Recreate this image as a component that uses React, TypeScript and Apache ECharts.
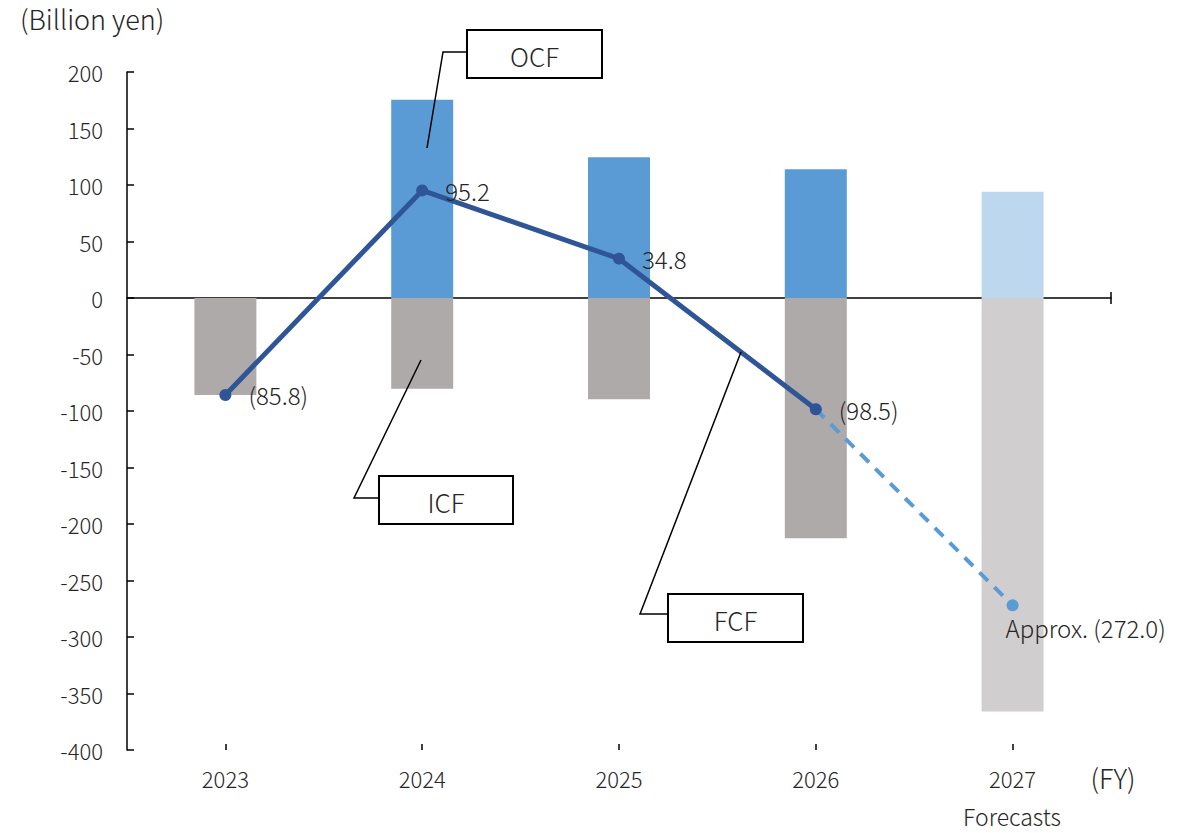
import { useEffect, useRef } from "react";
import * as echarts from "echarts";

// Fiscal years and cash-flow figures (billion yen)
const years = ["2023", "2024", "2025", "2026", "2027"];
const forecastIndex = 4;
const ocf = [0, 175.5, 124.5, 114.0, 94.0];
const icf = [-85.8, -80.3, -89.7, -212.5, -366.0];
const fcfActual: (number | null)[] = [-85.8, 95.2, 34.8, -98.5, null];
const fcfForecast: (number | null)[] = [null, null, null, -98.5, -272.0];
const yMin = -400;
const yMax = 200;
const yStep = 50;

const FONT = "'Noto Sans CJK JP', 'Noto Sans', sans-serif";
const TEXT = "#262626";
const OCF_COLOR = "#5B9BD5";
const OCF_FORECAST = "#BDD7EE";
const ICF_COLOR = "#AEAAAA";
const ICF_FORECAST = "#D0CECE";
const FCF_COLOR = "#2F5597";
const FCF_FORECAST = "#5B9BD5";

const fmt = (v: number) => (v < 0 ? `(${Math.abs(v).toFixed(1)})` : v.toFixed(1));

function callout(label: string, pts: number[][], box: { x: number; y: number; w: number; h: number }) {
  return [
    {
      type: "polyline",
      shape: { points: pts },
      style: { stroke: "#000", lineWidth: 1.5, fill: null },
      z: 10,
    },
    {
      type: "rect",
      shape: { x: box.x, y: box.y, width: box.w, height: box.h },
      style: { stroke: "#000", lineWidth: 2, fill: "#fff" },
      z: 10,
    },
    {
      type: "text",
      x: box.x + box.w / 2,
      y: box.y + box.h / 2 + 1,
      style: {
        text: label,
        font: `300 26px ${FONT}`,
        fill: TEXT,
        align: "center",
        verticalAlign: "middle",
      },
      z: 11,
    },
  ];
}

export default function App() {
  const ref = useRef<HTMLDivElement>(null);

  useEffect(() => {
    document.body.style.margin = "0";
    if (!ref.current) return;
    const chart = echarts.init(ref.current, undefined, { renderer: "svg" });

    const catAxisBase = {
      type: "category" as const,
      data: years,
      position: "bottom" as const,
      boundaryGap: true,
    };

    chart.setOption({
      animation: false,
      backgroundColor: "#fff",
      textStyle: { fontFamily: FONT, fontWeight: 300 },
      grid: { left: 127, right: 83, top: 72, bottom: 83, containLabel: false },
      xAxis: [
        {
          ...catAxisBase,
          axisLine: { show: false, onZero: false },
          axisTick: { show: false },
          axisLabel: { color: TEXT, fontSize: 22, fontWeight: 300, fontFamily: FONT, margin: 17 },
        },
        {
          ...catAxisBase,
          axisLine: { show: true, onZero: true, lineStyle: { color: "#000", width: 1.5 } },
          axisTick: { show: true, alignWithLabel: true, length: 6, lineStyle: { color: "#000", width: 1.5 } },
          axisLabel: { show: false },
        },
        {
          ...catAxisBase,
          axisLine: { show: false, onZero: true },
          axisTick: { show: true, inside: true, alignWithLabel: true, length: 6, lineStyle: { color: "#000", width: 1.5 } },
          axisLabel: { show: false },
        },
      ],
      yAxis: {
        type: "value",
        min: yMin,
        max: yMax,
        interval: yStep,
        axisLine: { show: true, lineStyle: { color: "#000", width: 1.5 } },
        axisTick: { show: true, inside: true, length: 7, lineStyle: { color: "#000", width: 1.5 } },
        axisLabel: { color: TEXT, fontSize: 22, fontWeight: 300, fontFamily: FONT, margin: 24 },
        splitLine: { show: false },
      },
      series: [
        {
          name: "OCF",
          type: "bar",
          barWidth: 62,
          barGap: "-100%",
          data: ocf.map((v, i) => ({
            value: v,
            itemStyle: { color: i === forecastIndex ? OCF_FORECAST : OCF_COLOR },
          })),
        },
        {
          name: "ICF",
          type: "bar",
          barWidth: 62,
          barGap: "-100%",
          data: icf.map((v, i) => ({
            value: v,
            itemStyle: { color: i === forecastIndex ? ICF_FORECAST : ICF_COLOR },
          })),
        },
        {
          name: "FCF forecast",
          type: "line",
          data: fcfForecast,
          symbol: "circle",
          symbolSize: 12,
          itemStyle: { color: FCF_FORECAST },
          lineStyle: { color: FCF_FORECAST, width: 4, type: [12, 9] },
          label: {
            show: true,
            position: "right",
            distance: 5,
            offset: [-18, 22],
            color: TEXT,
            fontSize: 24,
            fontWeight: 300,
            fontFamily: FONT,
            formatter: (p: any) => (p.dataIndex === forecastIndex ? `Approx. ${fmt(p.value)}` : ""),
          },
          z: 3,
        },
        {
          name: "FCF",
          type: "line",
          data: fcfActual,
          symbol: "circle",
          symbolSize: 12,
          itemStyle: { color: FCF_COLOR },
          lineStyle: { color: FCF_COLOR, width: 5 },
          label: {
            show: true,
            position: "right",
            distance: 17,
            color: TEXT,
            fontSize: 24,
            fontWeight: 300,
            fontFamily: FONT,
            formatter: (p: any) => fmt(p.value),
          },
          z: 4,
        },
      ],
      graphic: [
        {
          type: "text",
          left: 20,
          top: 5,
          style: { text: "(Billion yen)", font: `300 27px ${FONT}`, fill: TEXT },
        },
        {
          type: "text",
          x: 1113,
          y: 777,
          style: { text: "(FY)", font: `300 27px ${FONT}`, fill: TEXT, align: "center", verticalAlign: "middle" },
        },
        {
          type: "text",
          x: 1012,
          y: 816,
          style: { text: "Forecasts", font: `300 23px ${FONT}`, fill: TEXT, align: "center", verticalAlign: "middle" },
        },
        {
          type: "line",
          shape: { x1: 1111, y1: 292, x2: 1111, y2: 304 },
          style: { stroke: "#000", lineWidth: 1.5 },
        },
        ...callout("OCF", [[427, 148], [443, 52], [467, 52]], { x: 467, y: 30, w: 135, h: 48 }),
        ...callout("ICF", [[421, 360], [354, 498], [379, 498]], { x: 379, y: 476, w: 134, h: 48 }),
        ...callout("FCF", [[741, 352], [640, 614], [668, 614]], { x: 668, y: 594, w: 135, h: 48 }),
      ],
    });

    return () => chart.dispose();
  }, []);

  return <div ref={ref} style={{ width: 1194, height: 833 }} />;
}
